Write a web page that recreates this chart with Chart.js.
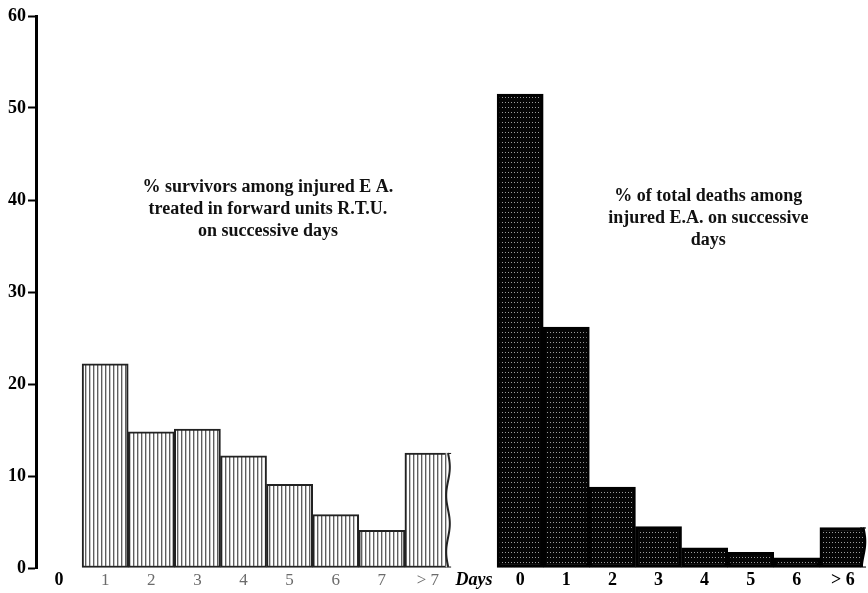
<!DOCTYPE html>
<html>
<head>
<meta charset="utf-8">
<title>Injured E.A. – survivors and deaths by day</title>
<script src="https://cdn.jsdelivr.net/npm/chart.js@4.4.1/dist/chart.umd.min.js"></script>
<style>
  html, body { margin: 0; padding: 0; background: #ffffff; }
  canvas { display: block; }
</style>
</head>
<body>
<canvas id="chart" width="868" height="593"></canvas>
<script>
// Day categories along the bottom: survivors block, the "Days" caption, deaths block
const survivorDays = ['0', '1', '2', '3', '4', '5', '6', '7', '> 7'];
const deathDays = ['0', '1', '2', '3', '4', '5', '6', '> 6'];
const daysCaption = 'Days';

// % survivors among injured E.A. treated in forward units R.T.U. (no bar for day 0)
const survivorPct = [null, 22.2, 14.8, 15.1, 12.2, 9.1, 5.8, 4.1, 12.5];
// % of total deaths among injured E.A.
const deathPct = [51.5, 26.2, 8.8, 4.5, 2.2, 1.7, 1.1, 4.4];

const yTicks = [0, 10, 20, 30, 40, 50, 60];

const leftTitle = ['% survivors among injured E A.', 'treated in forward units R.T.U.', 'on successive days'];
const rightTitle = ['% of total deaths among', 'injured E.A. on successive', 'days'];

// Build the shared category axis and the two series laid along it
const labels = [...survivorDays, daysCaption, ...deathDays];
const survivorSeries = [...survivorPct, null, ...deathDays.map(() => null)];
const deathSeries = [...survivorDays.map(() => null), null, ...deathPct];
const captionIndex = survivorDays.length;

// Fill patterns: fine vertical hatching and a dark dotted screen
function hatchPattern() {
  const c = document.createElement('canvas');
  c.width = 4; c.height = 4;
  const g = c.getContext('2d');
  g.fillStyle = '#ffffff';
  g.fillRect(0, 0, 4, 4);
  g.fillStyle = '#5e5e5e';
  g.fillRect(1, 0, 1, 4);
  g.fillStyle = '#c4c4c4';
  g.fillRect(2, 0, 1, 4);
  return g.createPattern(c, 'repeat');
}
function dotPattern() {
  const c = document.createElement('canvas');
  c.width = 3; c.height = 5;
  const g = c.getContext('2d');
  g.fillStyle = '#050505';
  g.fillRect(0, 0, 3, 5);
  g.fillStyle = '#9c9c9c';
  g.fillRect(1, 2, 1, 1);
  return g.createPattern(c, 'repeat');
}

const serif = '"Liberation Serif", "DejaVu Serif", serif';

// White page behind everything
const pageBackground = {
  id: 'pageBackground',
  beforeDraw(chart) {
    const ctx = chart.ctx;
    ctx.save();
    ctx.fillStyle = '#ffffff';
    ctx.fillRect(0, 0, chart.width, chart.height);
    ctx.restore();
  }
};

// Torn (wavy) right edge on the open-ended last bar of each block
const tornEdge = {
  id: 'tornEdge',
  afterDatasetsDraw(chart) {
    const ctx = chart.ctx;
    chart.data.datasets.forEach((ds, di) => {
      const meta = chart.getDatasetMeta(di);
      let last = -1;
      ds.data.forEach((v, i) => { if (v !== null) last = i; });
      if (last < 0) return;
      const bar = meta.data[last];
      const right = bar.x + bar.width / 2;
      const top = bar.y, bottom = bar.base;
      const edgeX = y => right - 3 + 1.8 * Math.sin((y - top) / 9);
      ctx.save();
      ctx.fillStyle = '#ffffff';
      ctx.fillRect(right - 3, top + 1, 6, bottom - top - 2);
      ctx.fillStyle = ds.backgroundColor;
      ctx.beginPath();
      ctx.moveTo(right - 6, top);
      for (let y = top; y <= bottom; y += 1) ctx.lineTo(edgeX(y), y);
      ctx.lineTo(right - 6, bottom);
      ctx.closePath();
      ctx.fill();
      ctx.strokeStyle = ds.borderColor;
      ctx.lineWidth = ds.borderWidth;
      ctx.beginPath();
      for (let y = top; y <= bottom; y += 1) {
        if (y === top) ctx.moveTo(edgeX(y), y); else ctx.lineTo(edgeX(y), y);
      }
      ctx.stroke();
      ctx.restore();
    });
  }
};

// Block captions placed in data space
const blockTitles = {
  id: 'blockTitles',
  afterDraw(chart) {
    const ctx = chart.ctx;
    const xs = chart.scales.x, ys = chart.scales.y;
    ctx.save();
    ctx.fillStyle = '#111111';
    ctx.font = 'bold 18px ' + serif;
    ctx.textAlign = 'center';
    ctx.textBaseline = 'middle';
    const lx = xs.getPixelForValue(4.53);
    leftTitle.forEach((t, i) => ctx.fillText(t, lx, ys.getPixelForValue(41.4 - i * 2.4)));
    const rx = xs.getPixelForValue(14.08);
    rightTitle.forEach((t, i) => ctx.fillText(t, rx, ys.getPixelForValue(40.4 - i * 2.4)));
    ctx.restore();
  }
};

new Chart(document.getElementById('chart'), {
  type: 'bar',
  data: {
    labels: labels,
    datasets: [
      {
        label: '% survivors',
        data: survivorSeries,
        backgroundColor: hatchPattern(),
        borderColor: '#222222',
        borderWidth: 2,
        borderSkipped: false,
        grouped: false,
        categoryPercentage: 1,
        barPercentage: 1
      },
      {
        label: '% of total deaths',
        data: deathSeries,
        backgroundColor: dotPattern(),
        borderColor: '#000000',
        borderWidth: 3,
        borderSkipped: false,
        grouped: false,
        categoryPercentage: 1,
        barPercentage: 1
      }
    ]
  },
  options: {
    responsive: false,
    devicePixelRatio: 1,
    animation: false,
    layout: { padding: { top: 16, right: 2, bottom: 0, left: 0 } },
    plugins: {
      legend: { display: false },
      tooltip: { enabled: false },
      title: { display: false }
    },
    scales: {
      x: {
        type: 'category',
        offset: true,
        grid: { display: false, drawTicks: false },
        border: { display: false },
        afterFit(scale) { scale.height = 25; },
        ticks: {
          autoSkip: false,
          maxRotation: 0,
          padding: 2,
          color(ctx) {
            const i = ctx.index;
            if (i > 0 && i < captionIndex) return '#6b6b6b';
            return '#000000';
          },
          font(ctx) {
            const i = ctx.index;
            if (i === captionIndex) return { family: serif, size: 18, weight: 'bold', style: 'italic' };
            if (i > 0 && i < captionIndex) return { family: serif, size: 17, weight: 'normal' };
            return { family: serif, size: 18, weight: 'bold' };
          }
        }
      },
      y: {
        min: 0,
        max: 60,
        afterFit(scale) { scale.width = 36; },
        afterBuildTicks(scale) { scale.ticks = yTicks.map(v => ({ value: v })); },
        grid: {
          display: true,
          drawOnChartArea: false,
          drawTicks: true,
          tickLength: 8,
          tickWidth: 2,
          tickColor: '#000000'
        },
        border: { display: true, color: '#000000', width: 3 },
        ticks: {
          padding: 2,
          color: '#000000',
          font: { family: serif, size: 18, weight: 'bold' }
        }
      }
    }
  },
  plugins: [pageBackground, tornEdge, blockTitles]
});
</script>
</body>
</html>
